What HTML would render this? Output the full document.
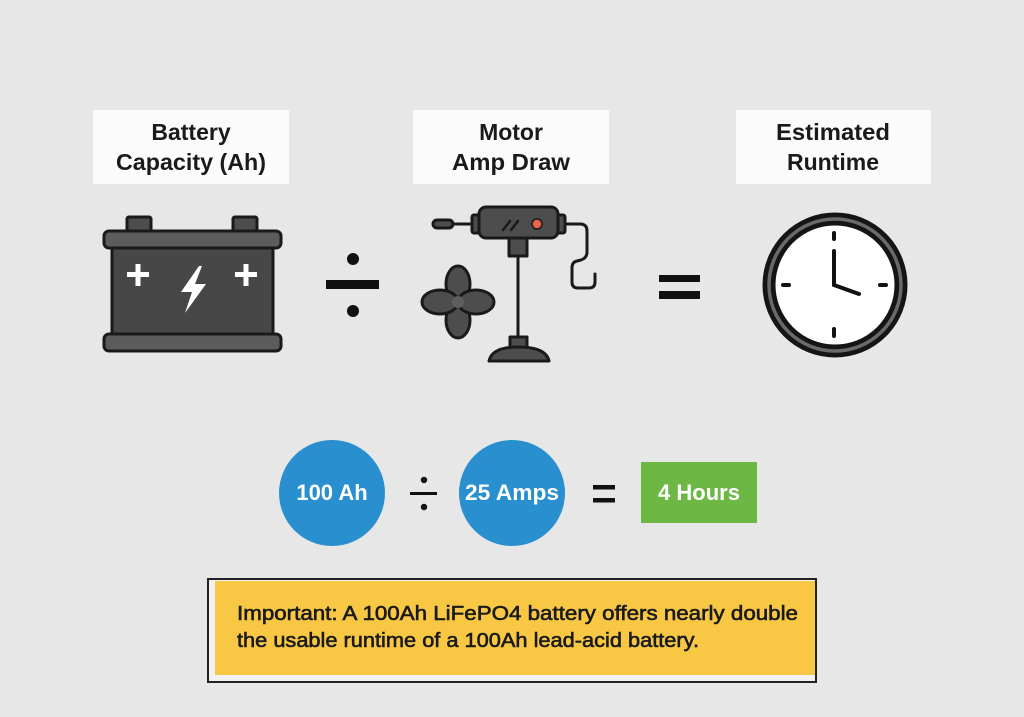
<!DOCTYPE html>
<html><head><meta charset="utf-8"><style>
html,body{margin:0;padding:0;background:#e7e7e7;}
svg{display:block;}
text{font-family:"Liberation Sans",Arial,sans-serif;}
</style></head><body>
<svg width="1024" height="717" viewBox="0 0 1024 717" xmlns="http://www.w3.org/2000/svg">
<rect width="1024" height="717" fill="#e7e7e7"/>
<!-- label boxes -->
<rect x="93" y="110" width="196" height="74" fill="#fbfbfb"/>
<rect x="413" y="110" width="196" height="74" fill="#fbfbfb"/>
<rect x="736" y="110" width="195" height="74" fill="#fbfbfb"/>
<g font-size="23" font-weight="bold" fill="#1a1a1a" text-anchor="middle">
<text x="191" y="140">Battery</text>
<text x="191" y="170" textLength="150" lengthAdjust="spacingAndGlyphs">Capacity (Ah)</text>
<text x="511" y="140">Motor</text>
<text x="511" y="170" textLength="118" lengthAdjust="spacingAndGlyphs">Amp Draw</text>
<text x="833" y="140" textLength="114" lengthAdjust="spacingAndGlyphs">Estimated</text>
<text x="833" y="170">Runtime</text>
</g>
<!-- battery -->
<g stroke="#1a1a1a" stroke-width="3" stroke-linejoin="round">
<rect x="127" y="217" width="24" height="16" rx="2" fill="#4d4d4d"/>
<rect x="233" y="217" width="24" height="16" rx="2" fill="#4d4d4d"/>
<rect x="112" y="247" width="161" height="87" fill="#474747"/>
<rect x="104" y="231" width="177" height="17" rx="5" fill="#5c5c5c"/>
<rect x="104" y="334" width="177" height="17" rx="5" fill="#5c5c5c"/>
</g>
<g fill="#ffffff">
<rect x="127" y="272" width="22" height="5"/><rect x="135.5" y="264" width="5" height="22"/>
<rect x="235" y="272" width="22" height="5"/><rect x="243.5" y="264" width="5" height="22"/>
<path d="M199 266 L181 292 L192 292 L185 313 L206 284 L195 284 L202 266 Z"/>
</g>
<!-- divide sign -->
<g fill="#111">
<circle cx="353" cy="259" r="6"/>
<rect x="326" y="280" width="53" height="9"/>
<circle cx="353" cy="311" r="6"/>
</g>
<!-- motor -->
<g stroke="#1a1a1a" stroke-width="3" stroke-linejoin="round" stroke-linecap="round">
<line x1="452" y1="224" x2="474" y2="224" stroke-width="3"/>
<rect x="433" y="220" width="20" height="8" rx="4" fill="#4d4d4d"/>
<path d="M564 224 H580 Q587 224 587 231 V252 Q587 258 581 260 L577 261 Q572 262 572 268 V282 Q572 288 578 288 H589 Q595 288 595 282 V274" fill="none"/>
<rect x="472" y="215" width="9" height="18" rx="2" fill="#4d4d4d"/>
<rect x="556" y="215" width="9" height="18" rx="2" fill="#4d4d4d"/>
<rect x="479" y="207" width="79" height="31" rx="7" fill="#4d4d4d"/>
<line x1="518" y1="256" x2="518" y2="338"/>
<rect x="509" y="238" width="18" height="18" fill="#4d4d4d"/>
<rect x="510" y="337" width="17" height="11" fill="#4d4d4d"/>
<path d="M489 361 Q492 347 518 347 Q546 347 549 361 Z" fill="#4d4d4d"/>
<ellipse cx="458" cy="284" rx="12" ry="18" fill="#4d4d4d"/>
<ellipse cx="458" cy="320" rx="12" ry="18" fill="#4d4d4d"/>
<ellipse cx="440" cy="302" rx="18" ry="12" fill="#4d4d4d"/>
<ellipse cx="476" cy="302" rx="18" ry="12" fill="#4d4d4d"/>
</g>
<circle cx="458" cy="302" r="6" fill="#5e5e5e"/>
<g stroke="#1a1a1a" stroke-width="2.5" stroke-linecap="round">
<line x1="503" y1="230" x2="510" y2="221"/>
<line x1="511" y1="230" x2="518" y2="221"/>
</g>
<circle cx="537" cy="224" r="5" fill="#e8644a" stroke="#1a1a1a" stroke-width="1.5"/>
<!-- equals -->
<g fill="#111">
<rect x="659" y="275" width="41" height="7"/>
<rect x="659" y="291" width="41" height="8"/>
</g>
<!-- clock -->
<circle cx="835" cy="285" r="66" fill="#ffffff" stroke="#151515" stroke-width="13"/>
<circle cx="835" cy="285" r="66" fill="none" stroke="#6a6a6a" stroke-width="3.5"/>
<g stroke="#111" stroke-width="4" stroke-linecap="round">
<line x1="834" y1="233" x2="834" y2="239"/>
<line x1="834" y1="329" x2="834" y2="336"/>
<line x1="783" y1="285" x2="789" y2="285"/>
<line x1="880" y1="285" x2="886" y2="285"/>
<line x1="834" y1="251" x2="834" y2="285"/>
<line x1="834" y1="285" x2="859" y2="294"/>
</g>
<!-- bottom equation -->
<circle cx="332" cy="493" r="53" fill="#2a8fcf"/>
<circle cx="512" cy="493" r="53" fill="#2a8fcf"/>
<rect x="641" y="462" width="116" height="61" fill="#6db845"/>
<g font-size="22" font-weight="bold" fill="#ffffff" text-anchor="middle">
<text x="332" y="500">100 Ah</text>
<text x="512" y="500" textLength="94" lengthAdjust="spacingAndGlyphs">25 Amps</text>
<text x="699" y="500">4 Hours</text>
</g>
<g fill="#111">
<circle cx="424" cy="480" r="3.2"/>
<rect x="410" y="492" width="27" height="3"/>
<circle cx="424" cy="507" r="3.2"/>
<rect x="593" y="485" width="22" height="4.5"/>
<rect x="593" y="498" width="22" height="4.5"/>
</g>
<!-- callout -->
<rect x="208" y="579" width="608" height="103" fill="#f2f2f2" stroke="#222" stroke-width="2"/>
<rect x="215" y="581" width="600" height="94" fill="#f8c844"/>
<g font-size="20" fill="#1a1a1a" stroke="#1a1a1a" stroke-width="0.6">
<text x="237" y="620" textLength="561" lengthAdjust="spacingAndGlyphs">Important: A 100Ah LiFePO4 battery offers nearly double</text>
<text x="237" y="647" textLength="462" lengthAdjust="spacingAndGlyphs">the usable runtime of a 100Ah lead-acid battery.</text>
</g>
</svg>
</body></html>
